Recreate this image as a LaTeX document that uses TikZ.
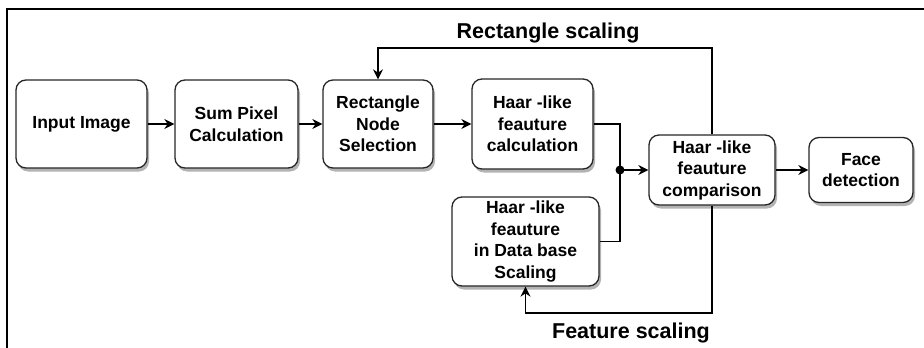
\documentclass[tikz,border=0pt]{standalone}
\usepackage{fontspec}
\setmainfont{Liberation Sans}
\usetikzlibrary{arrows.meta,shadows}
\begin{document}
\begin{tikzpicture}[x=1pt,y=-1pt,
    box/.style={draw=black!85,line width=1.3pt,fill=white,rounded corners=10pt,align=center,inner sep=2pt,
      drop shadow={shadow xshift=2pt,shadow yshift=-3.5pt,fill=black!50,opacity=0.6},
      font=\bfseries\fontsize{17.5}{21.5}\selectfont},
    lbl/.style={font=\bfseries\fontsize{21.5}{25}\selectfont,inner sep=0pt},
    arr/.style={line width=1.3pt,-{Stealth[length=10pt,width=10pt]}},
    wire/.style={line width=1.3pt}]
    \useasboundingbox (0,0) rectangle (924,348);
    \draw[line width=2.5pt] (7,348) -- (7,9) -- (924,9);
    \node[box,minimum width=131pt,minimum height=88pt] (inp) at (81.5,124) {Input Image};
    \node[box,minimum width=123pt,minimum height=88pt] (sum) at (236.5,124) {Sum Pixel\\Calculation};
    \node[box,minimum width=110pt,minimum height=88pt] (rect) at (378,124) {Rectangle\\Node\\Selection};
    \node[box,minimum width=121pt,minimum height=90pt] (calc) at (532.5,124) {Haar -like\\feauture\\calculation};
    \node[box,minimum width=147pt,minimum height=89pt] (db) at (525.5,241.5) {Haar -like\\feauture\\in Data base\\Scaling};
    \node[box,minimum width=126pt,minimum height=70pt] (comp) at (712,170) {Haar -like\\feauture\\comparison};
    \node[box,minimum width=104pt,minimum height=65pt] (face) at (861,170) {Face\\detection};
    \coordinate (j) at (620,170);
    \coordinate (rtop) at (712,48);
    \coordinate (fbot) at (712,313);
    \node[lbl] (rs) at (548,33) {Rectangle scaling};
    \node[lbl] (fs) at (631,333) {Feature scaling};
    \draw[arr] (inp) -- (sum);
    \draw[arr] (sum) -- (rect);
    \draw[arr] (rect) -- (calc);
    \draw[wire] (calc.east) -| (j);
    \draw[wire] (db.east) -| (j);
    \fill (j) circle (4.5pt);
    \draw[arr] (j) -- (comp);
    \draw[arr] (comp) -- (face);
    \draw[arr] (comp.north) -- (rtop) -| (rect.north);
    \draw[arr] (comp.south) -- (fbot) -| (db.south);
\end{tikzpicture}
\end{document}
